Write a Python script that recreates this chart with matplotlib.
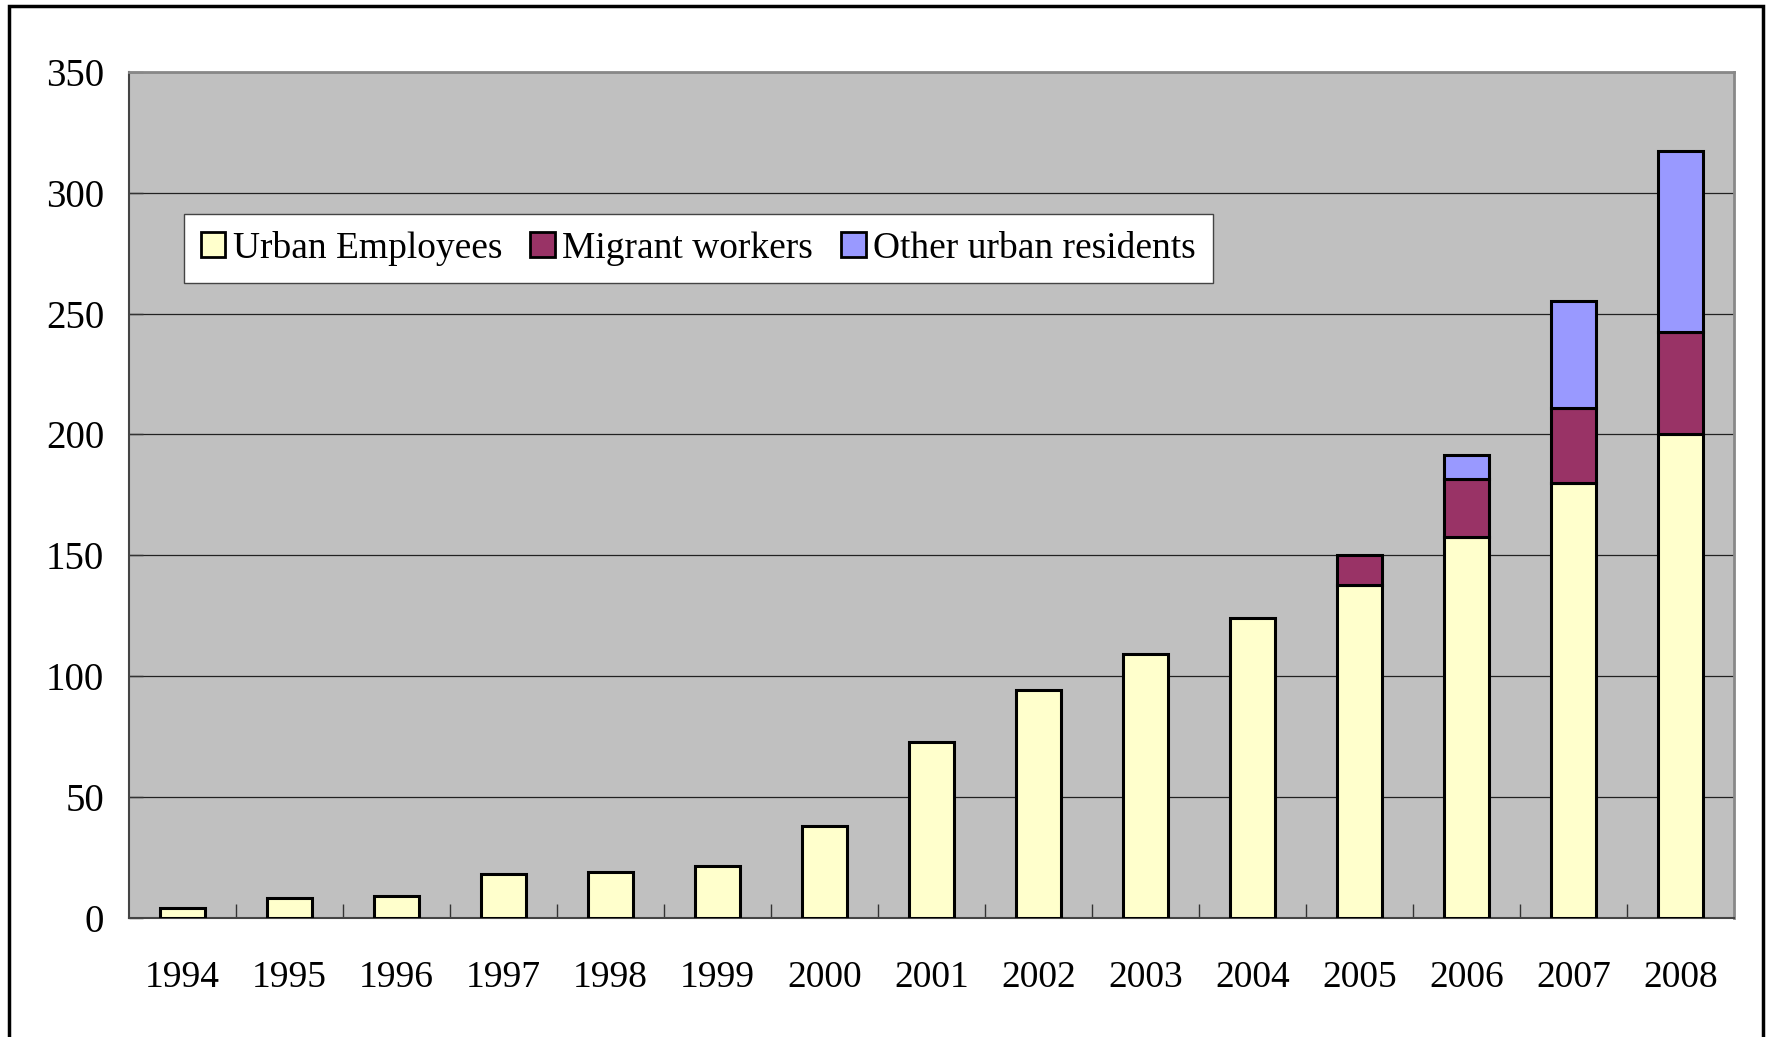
"""Stacked bars: insured persons by group, 1994-2008 (Excel-style look)."""
import matplotlib
matplotlib.use("Agg")
import matplotlib.pyplot as plt  # noqa: E402
import numpy as np  # noqa: E402
from matplotlib.patches import Rectangle  # noqa: E402

years = ["1994", "1995", "1996", "1997", "1998", "1999", "2000", "2001",
         "2002", "2003", "2004", "2005", "2006", "2007", "2008"]
urban = [4, 8, 9, 18, 19, 21.5, 38, 72.5, 94, 109, 124, 137.5, 157.5, 180, 200]
migrant = [0, 0, 0, 0, 0, 0, 0, 0, 0, 0, 0, 12.5, 24, 31, 42.5]
other = [0, 0, 0, 0, 0, 0, 0, 0, 0, 0, 0, 0, 10, 44, 75]
labels = ["Urban Employees", "Migrant workers", "Other urban residents"]
colors = ["#ffffcc", "#993366", "#9999ff"]
yticks = [0, 50, 100, 150, 200, 250, 300, 350]

W, H = 1774, 1037
plt.rcParams["font.family"] = ["Liberation Serif", "DejaVu Serif"]
fig = plt.figure(figsize=(W / 100, H / 100), dpi=100)
ax = fig.add_axes([129 / W, 1 - 917.5 / H, (1734 - 129) / W, (917.5 - 72) / H])
ax.set_facecolor("#c0c0c0")

x = np.arange(len(years))
bw = 0.42
lw = 2.2
u = np.array(urban)
m = np.array(migrant)
o = np.array(other)
ax.bar(x, u, bw, color=colors[0], edgecolor="black", linewidth=lw, label=labels[0], zorder=3)
mi = m > 0
ax.bar(x[mi], m[mi], bw, bottom=u[mi], color=colors[1], edgecolor="black",
       linewidth=lw, zorder=3)
oi = o > 0
ax.bar(x[oi], o[oi], bw, bottom=(u + m)[oi], color=colors[2], edgecolor="black",
       linewidth=lw, zorder=3)

ax.set_xlim(-0.5, len(years) - 0.5)
ax.set_ylim(0, 350)
ax.set_yticks(yticks)
ax.set_yticklabels([str(t) for t in yticks])
ax.yaxis.grid(True, color="#222222", linewidth=0.9, zorder=1)
ax.set_axisbelow(True)
ax.tick_params(axis="y", direction="in", length=10, width=1, color="#333333",
               labelsize=28, pad=18)

# category labels in the middle, ticks on the boundaries
ax.set_xticks(x)
ax.set_xticklabels(years)
ax.set_xticks(np.arange(0.5, len(years) - 0.5), minor=True)
ax.tick_params(axis="x", which="major", length=0, labelsize=27, pad=31)
ax.tick_params(axis="x", which="minor", direction="in", length=10, width=1,
               color="#333333")

for side in ["left", "bottom"]:
    ax.spines[side].set_color("#444444")
    ax.spines[side].set_linewidth(1.5)
for side in ["top", "right"]:
    ax.spines[side].set_color("#888888")
    ax.spines[side].set_linewidth(2)

handles = [Rectangle((0, 0), 1, 1, facecolor=c, edgecolor="black", linewidth=2)
           for c in colors]
leg = ax.legend(handles, labels, loc="upper left", ncol=3,
                bbox_to_anchor=(184 / W, 1 - 214 / H), bbox_transform=fig.transFigure,
                fontsize=27, frameon=True, fancybox=False, framealpha=1,
                edgecolor="#444444", handlelength=0.65, handleheight=0.65,
                handletextpad=0.2, columnspacing=0.75, borderpad=0.45,
                borderaxespad=0)
leg.get_frame().set_linewidth(1)

# outer chart border (bottom edge falls outside the picture)
fig.patches.append(Rectangle((9 / W, -0.05), (1763 - 9) / W, 1.05 - 6 / H,
                             transform=fig.transFigure, fill=False,
                             edgecolor="black", linewidth=2.5))

fig.savefig("out.png", dpi=100)
